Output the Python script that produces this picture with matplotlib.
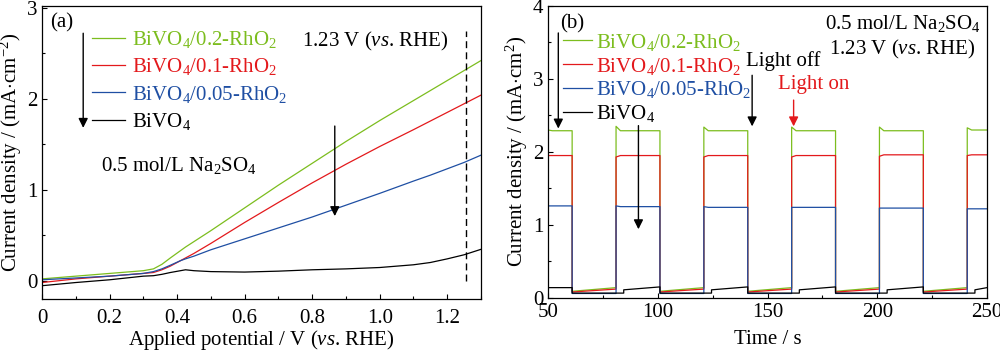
import matplotlib.pyplot as plt
from matplotlib.ticker import MultipleLocator, FixedLocator

plt.rcParams['font.family'] = 'Liberation Serif'
plt.rcParams['mathtext.fontset'] = 'custom'
plt.rcParams['mathtext.rm'] = 'Liberation Serif'
plt.rcParams['mathtext.it'] = 'Liberation Serif:italic'
plt.rcParams['font.size'] = 15

GREEN = '#7cbd1e'
RED = '#e3191c'
BLUE = '#1f4fa3'
BLACK = '#000000'

labels = ['BiVO$_4$/0.2-RhO$_2$', 'BiVO$_4$/0.1-RhO$_2$',
          'BiVO$_4$/0.05-RhO$_2$', 'BiVO$_4$']

# (a) linear sweep voltammetry
potential = [0, 0.1, 0.2, 0.3, 0.33, 0.355, 0.38, 0.41, 0.425, 0.45, 0.5, 0.6,
             0.7, 0.8, 0.9, 1.0, 1.1, 1.15, 1.2, 1.25, 1.3]
lsv_02 = [0.02, 0.05, 0.08, 0.11, 0.13, 0.18, 0.25, 0.33, 0.37, 0.43, 0.55,
          0.80, 1.05, 1.29, 1.53, 1.76, 1.98, 2.09, 2.20, 2.31, 2.42]
lsv_01 = [-0.02, 0.02, 0.05, 0.08, 0.09, 0.12, 0.16, 0.22, 0.25, 0.30, 0.41,
          0.64, 0.86, 1.075, 1.28, 1.475, 1.66, 1.755, 1.85, 1.945, 2.04]
lsv_005 = [0.01, 0.03, 0.05, 0.08, 0.10, 0.13, 0.17, 0.22, 0.24, 0.27, 0.34,
           0.46, 0.58, 0.70, 0.83, 0.96, 1.095, 1.16, 1.23, 1.30, 1.38]
lsv_bivo4 = [-0.055, -0.02, 0.01, 0.05, 0.055, 0.07, 0.09, 0.11, 0.12, 0.11,
             0.10, 0.095, 0.105, 0.12, 0.13, 0.145, 0.175, 0.20, 0.24, 0.285, 0.345]

# (b) chopped light i-t curves
switch_times = [50, 61, 81, 101, 121, 141, 161, 181, 201, 221, 241, 250]
green_peak = [2.30, 2.35, 2.34, 2.34, 2.34, 2.33]
green_on = [2.29, 2.29, 2.29, 2.29, 2.29, 2.30]
green_off = [(0.09, 0.14), (0.09, 0.14), (0.09, 0.14), (0.09, 0.14), (0.09, 0.14)]
red_peak = [1.95, 1.93, 1.93, 1.93, 1.94, 1.95]
red_on = [1.95, 1.95, 1.95, 1.95, 1.96, 1.96]
red_off = [(0.08, 0.12), (0.08, 0.12), (0.08, 0.12), (0.08, 0.12), (0.08, 0.12)]
blue_peak = [1.26, 1.26, 1.25, 1.24, 1.23, 1.22]
blue_on = [1.26, 1.25, 1.24, 1.24, 1.23, 1.22]
blue_off = [(0.06, 0.06), (0.06, 0.06), (0.06, 0.06), (0.06, 0.06), (0.06, 0.06)]
black_step = [0.14, 0.11, 0.11, 0.11, 0.11, 0.11]
black_on = [0.14, 0.15, 0.15, 0.15, 0.15, 0.14]
black_off = [0.065, 0.065, 0.065, 0.065, 0.065]


def chopped(peak, on, off, settle=2.0):
    t, j = [], []
    for k in range(len(switch_times) - 1):
        t0, t1 = switch_times[k], switch_times[k + 1]
        if k % 2 == 0:
            i = k // 2
            t += [t0, t0 + settle, t1]
            j += [peak[i], on[i], on[i]]
        else:
            a, b = off[k // 2]
            t += [t0, t1]
            j += [a, b]
    return t, j


def chopped_black(delay=3.5):
    t, j = [], []
    for k in range(len(switch_times) - 1):
        t0, t1 = switch_times[k], switch_times[k + 1]
        if k % 2 == 0:
            i = k // 2
            if k == 0:
                t += [t0, t1]
                j += [black_step[i], black_on[i]]
            else:
                t += [t0, t0 + delay, t0 + delay, t1]
                j += [black_off[i - 1], black_off[i - 1], black_step[i], black_on[i]]
        else:
            t += [t0, t1]
            j += [black_off[k // 2], black_off[k // 2]]
    return t, j


fig = plt.figure(figsize=(10, 3.5), dpi=100)
ax1 = fig.add_axes([0.042, 0.146, 0.439, 0.837])
ax2 = fig.add_axes([0.548, 0.149, 0.439, 0.834])

for ax in (ax1, ax2):
    ax.tick_params(which='both', direction='in', top=False, right=False,
                   labelsize=15, width=0.8)
    ax.tick_params(which='major', length=3.6)
    ax.tick_params(which='minor', length=2.4)
    for s in ax.spines.values():
        s.set_linewidth(0.9)

# ---- panel (a)
lw = 0.9
ax1.plot(potential, lsv_02, color=GREEN, lw=lw, label=labels[0])
ax1.plot(potential, lsv_01, color=RED, lw=lw, label=labels[1])
ax1.plot(potential, lsv_005, color=BLUE, lw=lw, label=labels[2])
ax1.plot(potential, lsv_bivo4, color=BLACK, lw=lw, label=labels[3])
ax1.vlines(1.255, 0.0, 2.75, colors='k', linestyles=(0, (5, 3)), lw=1)
ax1.set_xlim(0, 1.3)
ax1.set_ylim(-0.2, 3.02)
ax1.xaxis.set_major_locator(FixedLocator([0, 0.2, 0.4, 0.6, 0.8, 1.0, 1.2]))
ax1.set_xticklabels(['0', '0.2', '0.4', '0.6', '0.8', '1.0', '1.2'])
ax1.xaxis.set_minor_locator(MultipleLocator(0.1))
ax1.yaxis.set_major_locator(MultipleLocator(1))
ax1.yaxis.set_minor_locator(MultipleLocator(0.5))
ax1.tick_params(axis='x', pad=7)
ax1.set_xlabel('Applied potential / V ($\\mathit{vs}$. RHE)', fontsize=15, labelpad=0)
ax1.set_ylabel('Current density / (mA$\\cdot$cm$^{-2}$)', fontsize=15, labelpad=2)
ax1.legend(loc='upper left', bbox_to_anchor=(0.113, 0.921), frameon=False,
           handlelength=1.6, handletextpad=0.35, labelspacing=0.3,
           borderpad=0, borderaxespad=0, labelcolor='linecolor', fontsize=15)
ax1.text(0.024, 2.83, '(a)', va='center', ha='left')
ax1.text(0.77, 2.63, '1.23 V ($\\mathit{vs}$. RHE)', va='center', ha='left')
ax1.text(0.174, 1.27, '0.5 mol/L Na$_2$SO$_4$', va='center', ha='left')
arrow = dict(arrowstyle='-|>', color='k', lw=1, mutation_scale=14, shrinkA=0, shrinkB=0)
ax1.annotate('', xy=(0.122, 1.68), xytext=(0.122, 2.72), arrowprops=arrow)
ax1.annotate('', xy=(0.867, 0.71), xytext=(0.867, 1.70), arrowprops=arrow)

# ---- panel (b)
t, j = chopped(green_peak, green_on, green_off)
ax2.plot(t, j, color=GREEN, lw=lw, label=labels[0])
t, j = chopped(red_peak, red_on, red_off)
ax2.plot(t, j, color=RED, lw=lw, label=labels[1])
t, j = chopped(blue_peak, blue_on, blue_off)
ax2.plot(t, j, color=BLUE, lw=lw, label=labels[2])
t, j = chopped_black()
ax2.plot(t, j, color=BLACK, lw=lw, label=labels[3])
ax2.set_xlim(50, 250)
ax2.set_ylim(0, 4)
ax2.xaxis.set_major_locator(MultipleLocator(50))
ax2.xaxis.set_minor_locator(MultipleLocator(25))
ax2.yaxis.set_major_locator(MultipleLocator(1))
ax2.yaxis.set_minor_locator(MultipleLocator(0.5))
ax2.set_xlabel('Time / s', fontsize=15, labelpad=6)
ax2.set_ylabel('Current density / (mA$\\cdot$cm$^{2}$)', fontsize=15, labelpad=2)
ax2.legend(loc='upper left', bbox_to_anchor=(0.034, 0.912), frameon=False,
           handlelength=1.4, handletextpad=0.18, labelspacing=0.14,
           borderpad=0, borderaxespad=0, labelcolor='linecolor', fontsize=15)
ax2.text(55.5, 3.76, '(b)', va='center', ha='left')
ax2.text(247.3, 3.76, '0.5 mol/L Na$_2$SO$_4$', va='center', ha='right')
ax2.text(245, 3.40, '1.23 V ($\\mathit{vs}$. RHE)', va='center', ha='right')
ax2.text(140, 3.25, 'Light off', va='center', ha='left')
ax2.text(154.6, 2.92, 'Light on', va='center', ha='left', color=RED)
ax2.annotate('', xy=(54.7, 2.32), xytext=(54.7, 3.63), arrowprops=arrow)
ax2.annotate('', xy=(143, 2.35), xytext=(143, 3.05), arrowprops=arrow)
ax2.annotate('', xy=(91.2, 0.94), xytext=(91.2, 2.36), arrowprops=arrow)
red_arrow = dict(arrow, color=RED)
ax2.annotate('', xy=(161.9, 2.35), xytext=(161.9, 2.71), arrowprops=red_arrow)

fig.savefig('out.png', dpi=100)
